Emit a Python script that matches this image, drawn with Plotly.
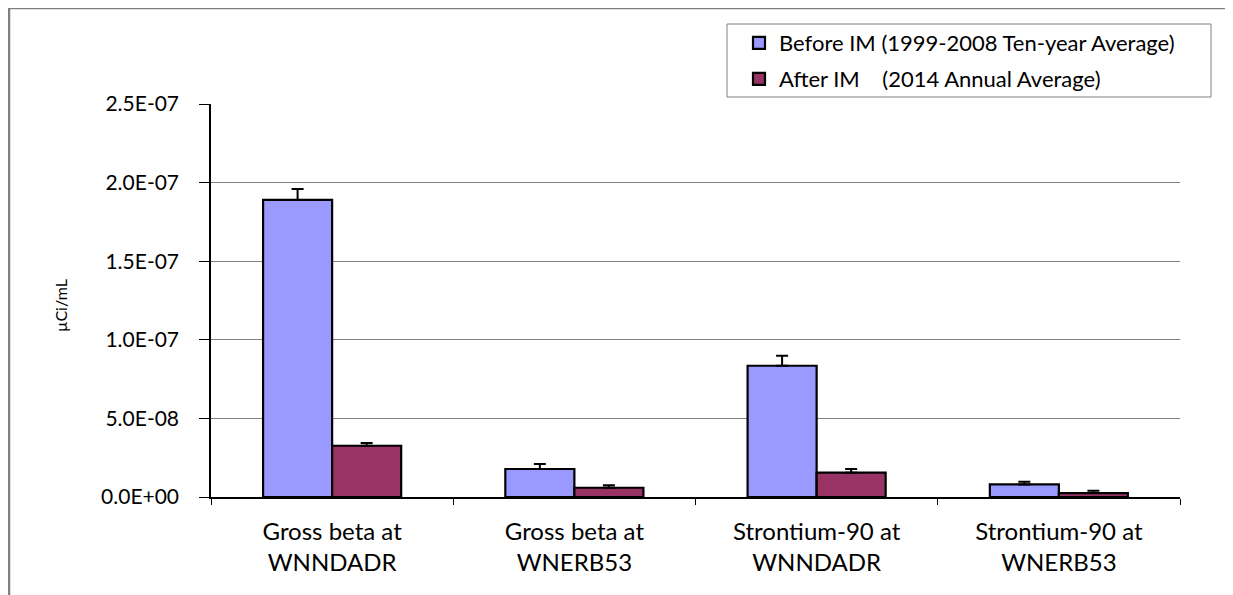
import plotly.graph_objects as go

categories = ["Gross beta at<br>WNNDADR", "Gross beta at<br>WNERB53",
              "Strontium-90 at<br>WNNDADR", "Strontium-90 at<br>WNERB53"]
before_vals = [1.89e-7, 1.78e-8, 8.35e-8, 8.0e-9]
before_err = [7.0e-9, 3.2e-9, 6.4e-9, 1.7e-9]
after_vals = [3.26e-8, 5.9e-9, 1.55e-8, 2.5e-9]
after_err = [1.7e-9, 1.5e-9, 2.3e-9, 1.5e-9]
series_names = ["Before IM (1999-2008 Ten-year Average)", "After IM    (2014 Annual Average)"]
tick_vals = [0, 5e-8, 1e-7, 1.5e-7, 2e-7, 2.5e-7]
tick_text = ["0.0E+00", "5.0E-08", "1.0E-07", "1.5E-07", "2.0E-07", "2.5E-07"]
y_title = "µCi/mL"

# page has an 8px body margin; work in page pixel coordinates
OFF = 8
W, H = 1233 - OFF, 595 - OFF
PL, PR, PT, PB = 211, 1180, 104, 497  # plot area in page pixels
L, R, T, B = PL - OFF, 1233 - PR, PT - OFF, 595 - PB
pw, ph = PR - PL, PB - PT

def px_x(p):
    return (p - PL) / pw

def px_y(p):
    return (PB - p) / ph

fig = go.Figure()
fig.add_trace(go.Bar(
    x=categories, y=before_vals, name=series_names[0], legend="legend",
    marker=dict(color="#9999FF", line=dict(color="black", width=2.2)),
    error_y=dict(type="data", array=before_err, arrayminus=[0]*4, symmetric=False,
                 color="black", thickness=2, width=6),
))
fig.add_trace(go.Bar(
    x=categories, y=after_vals, name=series_names[1], legend="legend2",
    marker=dict(color="#993366", line=dict(color="black", width=2.2)),
    error_y=dict(type="data", array=after_err, arrayminus=[0]*4, symmetric=False,
                 color="black", thickness=2, width=6),
))

# outer chart border
fig.add_shape(type="rect", xref="paper", yref="paper",
              x0=px_x(9), x1=px_x(1260), y0=px_y(620), y1=px_y(8),
              line=dict(color="#808080", width=2.5), fillcolor="rgba(0,0,0,0)", layer="below")
# legend box
fig.add_shape(type="rect", xref="paper", yref="paper",
              x0=px_x(727), x1=px_x(1211), y0=px_y(97), y1=px_y(24),
              line=dict(color="#808080", width=1), fillcolor="white", layer="above")

fig.add_annotation(text=y_title, xref="paper", yref="paper",
                   x=px_x(60), y=px_y(306), showarrow=False, textangle=-90,
                   font=dict(size=16, color="black"), xanchor="center", yanchor="middle")

leg_common = dict(xanchor="left", yanchor="middle", borderwidth=0,
                  bgcolor="rgba(0,0,0,0)", font=dict(size=22), itemwidth=30)

fig.update_layout(
    width=W, height=H,
    margin=dict(l=L, r=R, t=T, b=B),
    plot_bgcolor="white", paper_bgcolor="white",
    font=dict(family="Lato, Open Sans, sans-serif", size=21, color="black"),
    barmode="group", bargap=0.43, bargroupgap=0,
    showlegend=True,
    legend=dict(x=px_x(739), y=px_y(43), **leg_common),
    legend2=dict(x=px_x(739), y=px_y(79), **leg_common),
    xaxis=dict(showline=True, linecolor="black", linewidth=1.5,
               ticks="outside", tickson="boundaries", ticklen=6, tickcolor="black",
               showgrid=False, tickfont=dict(size=24), ticklabelstandoff=12),
    yaxis=dict(range=[0, 2.5e-7], tickvals=tick_vals, ticktext=tick_text,
               showline=True, linecolor="black", linewidth=1.5,
               ticks="outside", ticklen=10, tickcolor="black",
               showgrid=True, gridcolor="#808080", gridwidth=1, zeroline=False,
               tickfont=dict(size=21), ticklabelstandoff=16),
)

fig.write_html("out.html")
